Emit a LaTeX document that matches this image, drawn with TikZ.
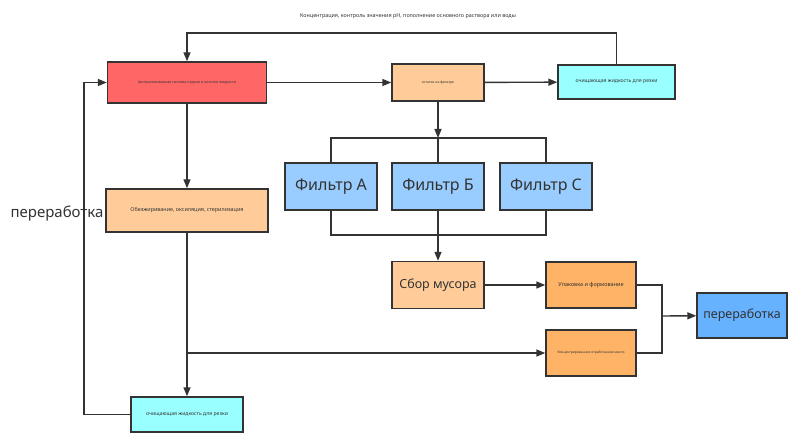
\documentclass[tikz,border=0pt]{standalone}
\usepackage{fontspec}
\setmainfont{Noto Sans}
\usetikzlibrary{arrows.meta}

\definecolor{redbox}{HTML}{FF6666}
\definecolor{peach}{HTML}{FFCC99}
\definecolor{orangebox}{HTML}{FFB366}
\definecolor{cyanbox}{HTML}{99FFFF}
\definecolor{filterbox}{HTML}{99CCFF}
\definecolor{bluebox}{HTML}{66B2FF}
\definecolor{ink}{HTML}{333333}

\begin{document}
\begin{tikzpicture}[x=1pt,y=-1pt,line width=1.4pt,draw=ink,
  box/.style={draw=ink,line width=1.4pt,inner sep=0pt,align=center,text=ink},
  arr/.style={-{Triangle[length=9pt,width=7pt]}}]

\useasboundingbox (0,0) rectangle (800,446);

% upper row
\node [box,fill=redbox,minimum width=159pt,minimum height=41pt,font=\fontsize{3.6}{4}\selectfont] (central) at (187,82.5) {Централизованная система подачи и очистки жидкости};
\node [box,fill=peach,minimum width=92pt,minimum height=37pt,font=\fontsize{3.4}{4}\selectfont] (resid) at (438,82.5) {остатки на фильтре};
\node [box,fill=cyanbox,minimum width=117pt,minimum height=34pt,font=\fontsize{5.1}{6}\selectfont] (fluidT) at (616.5,82) {очищающая жидкость для резки};
\node [text=ink,font=\fontsize{5.4}{6}\selectfont] (note) at (408,16) {Концентрация, контроль значения pH, пополнение основного раствора или воды};

% filters
\node [box,fill=filterbox,line width=2pt,minimum width=92pt,minimum height=47pt,font=\fontsize{16}{18}\selectfont] (fA) at (331,186.5) {Фильтр А};
\node [box,fill=filterbox,minimum width=92pt,minimum height=47pt,font=\fontsize{16}{18}\selectfont] (fB) at (438,186.5) {Фильтр Б};
\node [box,fill=filterbox,minimum width=92pt,minimum height=47pt,font=\fontsize{16}{18}\selectfont] (fC) at (546,186.5) {Фильтр С};

% lower part
\node [box,fill=peach,minimum width=92pt,minimum height=47pt,font=\fontsize{12.5}{15}\selectfont] (waste) at (438,285) {Сбор мусора};
\node [box,fill=orangebox,minimum width=90pt,minimum height=46pt,font=\fontsize{5.5}{7}\selectfont] (pack) at (591,285) {Упаковка и формование};
\node [box,fill=orangebox,minimum width=90pt,minimum height=46pt,font=\fontsize{3.3}{4}\selectfont] (oil) at (591,353) {Концентрированное отработанное масло};
\node [box,fill=bluebox,minimum width=90pt,minimum height=45pt,font=\fontsize{12.5}{15}\selectfont] (recycle) at (742,315.5) {переработка};
\node [box,fill=peach,minimum width=162pt,minimum height=43pt,font=\fontsize{5.4}{6}\selectfont] (degrease) at (187,210.5) {Обезжиривание, оксиляция, стерилизация};
\node [box,fill=cyanbox,minimum width=112pt,minimum height=35pt,font=\fontsize{5.1}{6}\selectfont] (fluidB) at (187,414.5) {очищающая жидкость для резки};
\node [text=ink,font=\fontsize{15}{17}\selectfont] (loop) at (57,214) {переработка};

\coordinate (split) at (438,138);
\coordinate (join) at (438,235);
\coordinate (merge) at (662,316);
\coordinate (topY) at (0,33);
\coordinate (leftX) at (84,0);

\draw [arr] (central) -- (resid);
\draw [arr] (resid) -- (fluidT);
\draw [arr] (fluidT.north) -- (fluidT.north |- topY) -| (central.north);
\draw [arr] (resid) -- (split);
\draw (fA.north) |- (split) -| (fC.north);
\draw (split) -- (fB.north);
\draw (fA.south) |- (join) -| (fC.south);
\draw (fB.south) -- (join);
\draw [arr] (join) -- (waste);
\draw [arr] (waste) -- (pack);
\draw (pack.east) -| (merge) |- (oil.east);
\draw [arr] (merge) -- (recycle);
\draw [arr] (central) -- (degrease);
\draw [arr] (degrease) -- (fluidB);
\draw [arr] (degrease.south |- oil) -- (oil);
\draw [arr] (fluidB.west) -- (leftX |- fluidB.west) |- (central.west);
\end{tikzpicture}
\end{document}
